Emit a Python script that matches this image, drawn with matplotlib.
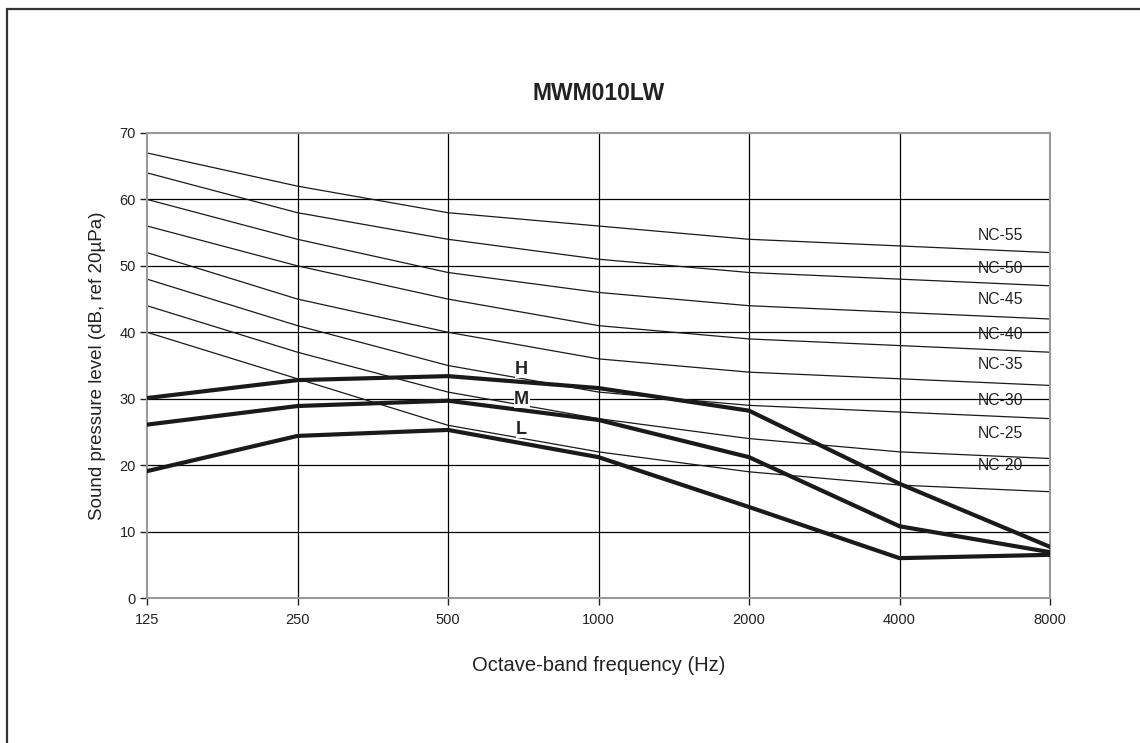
import matplotlib
matplotlib.use("Agg")
import matplotlib.pyplot as plt
from matplotlib.patches import Rectangle

plt.rcParams['font.family'] = ['Liberation Sans', 'DejaVu Sans']

# Data
freqs = ["125", "250", "500", "1000", "2000", "4000", "8000"]
nc_names = ["NC-55", "NC-50", "NC-45", "NC-40", "NC-35", "NC-30", "NC-25", "NC-20"]
nc_55 = [67, 62, 58, 56, 54, 53, 52]
nc_50 = [64, 58, 54, 51, 49, 48, 47]
nc_45 = [60, 54, 49, 46, 44, 43, 42]
nc_40 = [56, 50, 45, 41, 39, 38, 37]
nc_35 = [52, 45, 40, 36, 34, 33, 32]
nc_30 = [48, 41, 35, 31, 29, 28, 27]
nc_25 = [44, 37, 31, 27, 24, 22, 21]
nc_20 = [40, 33, 26, 22, 19, 17, 16]
nc_label_y = [54.5, 49.6, 44.9, 39.6, 35.2, 29.8, 24.8, 19.9]

speed_names = ["H", "M", "L"]
h_speed = [30.1, 32.8, 33.4, 31.6, 28.2, 17.2, 7.7]
m_speed = [26.1, 28.9, 29.7, 26.8, 21.2, 10.8, 6.9]
l_speed = [19.1, 24.4, 25.3, 21.2, 13.7, 6.0, 6.5]
speed_label_y = [34.4, 29.9, 25.4]

fig = plt.figure(figsize=(11.4, 7.43), dpi=100)
# outer frame
fig.patches.append(Rectangle((7 / 1140, -0.01), 1.02, 1 - 9 / 743 + 0.01,
                             transform=fig.transFigure, fill=False,
                             edgecolor="#333333", linewidth=1.6))

ax = fig.add_axes([147 / 1140, 145 / 743, 903 / 1140, 465 / 743])
x = list(range(len(freqs)))

for v in [10, 20, 30, 40, 50, 60]:
    ax.axhline(v, color="black", linewidth=0.9, zorder=1)
for i in x[1:-1]:
    ax.axvline(i, color="black", linewidth=0.9, zorder=1)

nc_series = [nc_55, nc_50, nc_45, nc_40, nc_35, nc_30, nc_25, nc_20]
for vals in nc_series:
    ax.plot(x, vals, color="#1a1a1a", linewidth=0.9, zorder=2)
for name, yv in zip(nc_names, nc_label_y):
    ax.text(5.67, yv, name, ha="center", va="center", fontsize=11.3, color="#222222", zorder=4)

for vals in [h_speed, m_speed, l_speed]:
    ax.plot(x, vals, color="#1a1a1a", linewidth=3.0, zorder=3, solid_joinstyle="miter")
for name, yv in zip(speed_names, speed_label_y):
    ax.text(2.49, yv, name, ha="center", va="center", fontsize=13, fontweight="bold",
            color="#222222", zorder=5,
            bbox=dict(facecolor="white", edgecolor="none", pad=0.3))

ax.set_xlim(0, 6)
ax.set_ylim(0, 70)
ax.set_xticks(x)
ax.set_xticklabels(freqs)
ax.set_yticks(range(0, 71, 10))
for s in ax.spines.values():
    s.set_color("#999999")
    s.set_linewidth(1.5)
ax.tick_params(axis="both", colors="#222222", labelsize=10.5, length=5, width=1, pad=3)
ax.tick_params(axis="x", pad=6)

ax.set_title("MWM010LW", fontsize=16.5, fontweight="bold", color="#222222", pad=24)
ax.set_ylabel("Sound pressure level (dB, ref 20µPa)", fontsize=13.5, color="#222222", labelpad=10)
ax.set_xlabel("Octave-band frequency (Hz)", fontsize=14.5, color="#222222", labelpad=21)

fig.savefig("out.png", dpi=100)
